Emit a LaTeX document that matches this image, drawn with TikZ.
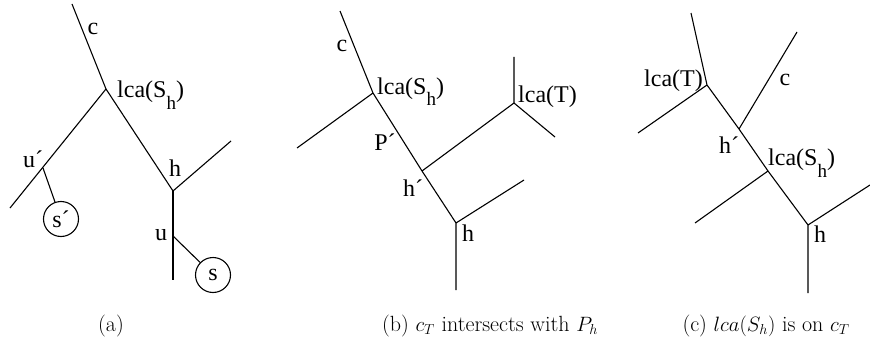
\documentclass[tikz,border=0pt]{standalone}
\usepackage{fontspec}
\newfontfamily\lblfont{Liberation Serif}
\begin{document}
\begin{tikzpicture}[x=1pt,y=-1pt,
  edge/.style={line width=1.1pt},
  lbl/.style={font=\lblfont\fontsize{24}{24}\selectfont, inner sep=0pt},
  leaf/.style={draw, circle, line width=1.1pt, minimum size=35pt, inner sep=0pt, font=\lblfont\fontsize{24}{24}\selectfont},
  captext/.style={font=\fontsize{22}{22}\selectfont, inner sep=0pt}]
\useasboundingbox (0,0) rectangle (870,345);
\newcommand{\Sh}{S\raisebox{-12pt}{\fontsize{19}{19}\selectfont h}}
% ---------- (a)
\coordinate (a-ct) at (72,4);
\coordinate (a-lca) at (106,89);
\coordinate (a-ll) at (10,208);
\coordinate (a-u1) at (43,168);
\coordinate (a-h) at (173,191);
\coordinate (a-hr) at (231,141);
\coordinate (a-hd) at (173,280);
\coordinate (a-u) at (173,236);
\node[leaf] (a-s1) at (61,219) {s´};
\node[leaf] (a-s) at (213,275) {s};
\draw[edge] (a-ct) -- (a-lca) -- (a-ll);
\draw[edge] (a-lca) -- (a-h) -- (a-hr);
\draw[edge] (a-h) -- (a-hd);
\draw[edge] (a-u1) -- (a-s1);
\draw[edge] (a-u) -- (a-s);
\node[lbl,anchor=base] (a-lc) at (93,35) {c};
\node[lbl,anchor=base west] (a-lb) at (117,97) {lca(\Sh)};
\node[lbl,anchor=base] (a-lu1) at (33,167) {u´};
\node[lbl,anchor=base] (a-lh) at (175,176) {h};
\node[lbl,anchor=base] (a-lu) at (161,240) {u};
% ---------- (b)
\coordinate (b-ct) at (340,11);
\coordinate (b-lca) at (373,93);
\coordinate (b-ll) at (297,148);
\coordinate (b-h1) at (422,171);
\coordinate (b-h) at (456,223);
\coordinate (b-T) at (514,103);
\coordinate (b-Tu) at (514,57);
\coordinate (b-Td) at (555,137);
\coordinate (b-hr) at (524,180);
\coordinate (b-hd) at (456,290);
\draw[edge] (b-ct) -- (b-lca) -- (b-h1) -- (b-h) -- (b-hd);
\draw[edge] (b-lca) -- (b-ll);
\draw[edge] (b-h1) -- (b-T) -- (b-Tu);
\draw[edge] (b-T) -- (b-Td);
\draw[edge] (b-h) -- (b-hr);
\node[lbl,anchor=base] (b-lc) at (342,52) {c};
\node[lbl,anchor=base west] (b-lb) at (377,94) {lca(\Sh)};
\node[lbl,anchor=base west] (b-lt) at (518,102) {lca(T)};
\node[lbl,anchor=base] (b-lp) at (385,150) {P´};
\node[lbl,anchor=base] (b-lh1) at (413,196) {h´};
\node[lbl,anchor=base] (b-lh) at (468,241) {h};
% ---------- (c)
\coordinate (c-top) at (691,13);
\coordinate (c-T) at (707,85);
\coordinate (c-Tl) at (638,133);
\coordinate (c-h1) at (739,129);
\coordinate (c-ct) at (797,32);
\coordinate (c-lca) at (768,171);
\coordinate (c-ll) at (695,223);
\coordinate (c-h) at (808,225);
\coordinate (c-hr) at (870,185);
\coordinate (c-hd) at (808,293);
\draw[edge] (c-top) -- (c-T) -- (c-h1) -- (c-lca) -- (c-h) -- (c-hd);
\draw[edge] (c-T) -- (c-Tl);
\draw[edge] (c-h1) -- (c-ct);
\draw[edge] (c-lca) -- (c-ll);
\draw[edge] (c-h) -- (c-hr);
\node[lbl,anchor=base east] (c-lt) at (703,86) {lca(T)};
\node[lbl,anchor=base] (c-lc) at (785,85) {c};
\node[lbl,anchor=base] (c-lh1) at (729,153) {h´};
\node[lbl,anchor=base west] (c-lb) at (768,165) {lca(\Sh)};
\node[lbl,anchor=base] (c-lh) at (820,242) {h};
% ---------- captions
\node[captext] (cap-a) at (111,326) {(a)};
\node[captext] (cap-b) at (490,326) {(b) $c_T$ intersects with $P_h$};
\node[captext] (cap-c) at (766,326) {(c) $lca(S_h)$ is on $c_T$};
\end{tikzpicture}
\end{document}
